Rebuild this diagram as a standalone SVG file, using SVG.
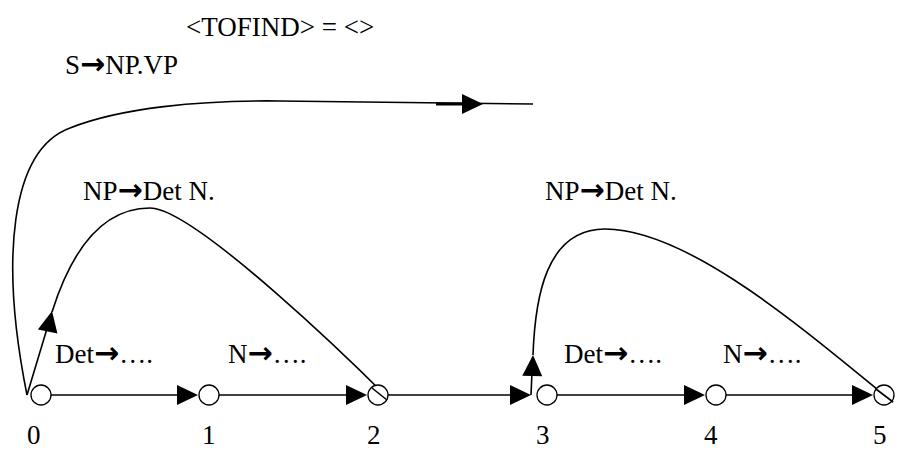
<svg xmlns="http://www.w3.org/2000/svg" width="898" height="450" viewBox="0 0 898 450">
<style>
text{font-family:"Liberation Serif","Times New Roman",serif;font-size:27px;fill:#000}
.ar{font-family:"DejaVu Sans",sans-serif;font-weight:bold;font-size:30px}
.ln{fill:none;stroke:#000;stroke-width:1.6}
.nd{fill:#fff;stroke:#000;stroke-width:1.3}
</style>
<defs>
<path id="ah" d="M0,0 L-21,-10 L-21,10 Z" fill="#000"/>
</defs>
<rect width="898" height="450" fill="#fff"/>
<g id="connectors">
<path class="ln" d="M27 395 C0 260 10 150 70 128 C120 108 200 100 280 101 C380 102 460 103 533 104"/>
<path d="M436 104 L465 104" stroke="#000" stroke-width="3"/>
<use href="#ah" transform="translate(483,104)"/>
<path class="ln" d="M27 395 L49 322 M52 312 C70 255 100 208 150 208 C195 208 360 370 387 397"/>
<use href="#ah" transform="translate(52,311) rotate(-78)"/>
<path class="ln" d="M531 395 L532 372 M533 355 C535 300 545 229 605 229 C690 229 810 335 893 402"/>
<use href="#ah" transform="translate(533,355) rotate(-88)"/>
<path class="ln" d="M51 395 H195"/>
<use href="#ah" transform="translate(198,395)"/>
<path class="ln" d="M219 395 H364"/>
<use href="#ah" transform="translate(367,395)"/>
<path class="ln" d="M388 395 H528"/>
<use href="#ah" transform="translate(531,395)"/>
<path class="ln" d="M557 395 H702"/>
<use href="#ah" transform="translate(705,395)"/>
<path class="ln" d="M726 395 H870"/>
<use href="#ah" transform="translate(873,395)"/>
</g>
<g id="n0"><circle class="nd" cx="41" cy="395" r="10"/><text x="27" y="444">0</text></g>
<g id="n1"><circle class="nd" cx="209" cy="395" r="10"/><text x="202" y="444">1</text></g>
<g id="n2"><circle class="nd" cx="378" cy="395" r="10"/><path class="ln" d="M372 388 L387 400"/><text x="367" y="444">2</text></g>
<g id="n3"><circle class="nd" cx="547" cy="395" r="10"/><text x="536" y="444">3</text></g>
<g id="n4"><circle class="nd" cx="716" cy="395" r="10"/><text x="704" y="444">4</text></g>
<g id="n5"><circle class="nd" cx="884" cy="395" r="10"/><path class="ln" d="M876 389 L893 402"/><text x="873" y="444">5</text></g>
<g id="labels">
<text x="186" y="36">&lt;TOFIND&gt; = &lt;&gt;</text>
<text x="65" y="74">S<tspan class="ar">→</tspan>NP.VP</text>
<text x="83" y="200">NP<tspan class="ar">→</tspan>Det N.</text>
<text x="545" y="200">NP<tspan class="ar">→</tspan>Det N.</text>
<text x="55" y="363">Det<tspan class="ar">→</tspan>….</text>
<text x="228" y="363">N<tspan class="ar">→</tspan>….</text>
<text x="564" y="363">Det<tspan class="ar">→</tspan>….</text>
<text x="723" y="363">N<tspan class="ar">→</tspan>….</text>
</g>
</svg>
